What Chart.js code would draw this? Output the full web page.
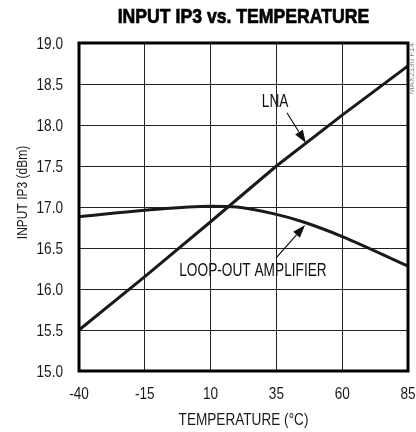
<!DOCTYPE html>
<html>
<head>
<meta charset="utf-8">
<script src="https://cdn.jsdelivr.net/npm/chart.js@4"></script>
<style>
  html, body { margin: 0; padding: 0; background: #fff; }
  #wrap { width: 416px; height: 432px; }
</style>
</head>
<body>
<div id="wrap"><canvas id="chart" width="416" height="432"></canvas></div>
<script>
// values
var temps_lna = [-40, -15, 10, 35, 60, 85];
var ip3_lna = [15.5, 16.15, 16.82, 17.5, 18.12, 18.72];

var temps_loop = [-40, -15, 10, 20, 35, 45, 60, 85];
var ip3_loop = [16.88, 16.96, 17.01, 17.0, 16.91, 16.82, 16.64, 16.28];

var x_ticks = [-40, -15, 10, 35, 60, 85];

var chart_title = 'INPUT IP3 vs. TEMPERATURE';
var x_title = 'TEMPERATURE (°C)';
var y_title = 'INPUT IP3 (dBm)';

// labels with arrows, in data units: text at (tx, ty), arrow from (ax, ay) to (bx, by)
var labels = [
    { text: 'LNA', tx: 34.5, ty: 18.3, ax: 39.0, ay: 18.15, bx: 46.2, by: 17.78 },
    { text: 'LOOP-OUT AMPLIFIER', tx: 26.1, ty: 16.24, ax: 34.9, ay: 16.38, bx: 45.9, by: 16.78 }
];

const FONT = "'Liberation Sans', Arial, sans-serif";
const CAP = 0.716;   // cap height of Liberation Sans, in em
const NARROW = 0.8;  // horizontal squeeze, to look like a condensed face

// draw text centred on (x, y) by its cap height, squeezed sideways by sx
function drawText(ctx, text, x, y, size, align, sx, bold) {
    ctx.save();
    ctx.font = (bold ? 'bold ' : '') + size + 'px ' + FONT;
    ctx.textAlign = align;
    ctx.textBaseline = 'alphabetic';
    ctx.translate(x, y + size * CAP / 2);
    ctx.scale(sx, 1);
    ctx.fillText(text, 0, 0);
    if (bold) {
        ctx.lineWidth = 0.7;
        ctx.strokeStyle = ctx.fillStyle;
        ctx.strokeText(text, 0, 0);
    }
    ctx.restore();
}

function toPoints(xs, ys) {
    let pts = [];
    for (let i = 0; i < xs.length; i++) {
        pts.push({ x: xs[i], y: ys[i] });
    }
    return pts;
}

// frame, texts, arrows drawn over the plot
const extras = {
    id: 'extras',
    afterDraw(chart) {
        const ctx = chart.ctx;
        const a = chart.chartArea;
        const xs = chart.scales.x;
        const ys = chart.scales.y;
        const mid = (a.left + a.right) / 2;
        ctx.save();
        ctx.strokeStyle = '#000';
        ctx.lineWidth = 3;
        ctx.strokeRect(a.left, a.top, a.right - a.left, a.bottom - a.top);

        ctx.fillStyle = '#000';
        drawText(ctx, chart_title, mid, 15.5, 21, 'center', 0.84, true);

        ctx.fillStyle = '#1a1a1a';
        xs.ticks.forEach(t => {
            drawText(ctx, String(t.value), xs.getPixelForValue(t.value), a.bottom + 22, 17, 'center', NARROW);
        });
        ys.ticks.forEach(t => {
            drawText(ctx, t.value.toFixed(1), a.left - 16, ys.getPixelForValue(t.value), 17, 'right', NARROW);
        });
        drawText(ctx, x_title, mid, 419, 17, 'center', NARROW);

        ctx.save();
        ctx.translate(21.5, 192.5);
        ctx.rotate(-Math.PI / 2);
        drawText(ctx, y_title, 0, 0, 15, 'center', NARROW);
        ctx.restore();

        ctx.strokeStyle = '#111';
        ctx.fillStyle = '#111';
        labels.forEach(l => {
            drawText(ctx, l.text, xs.getPixelForValue(l.tx), ys.getPixelForValue(l.ty), 19, 'center', 0.72);
            const x1 = xs.getPixelForValue(l.ax), y1 = ys.getPixelForValue(l.ay);
            const x2 = xs.getPixelForValue(l.bx), y2 = ys.getPixelForValue(l.by);
            const ang = Math.atan2(y2 - y1, x2 - x1);
            const len = 13, half = 4.5;
            const bxp = x2 - len * Math.cos(ang), byp = y2 - len * Math.sin(ang);
            ctx.lineWidth = 1.2;
            ctx.beginPath();
            ctx.moveTo(x1, y1);
            ctx.lineTo(bxp, byp);
            ctx.stroke();
            ctx.beginPath();
            ctx.moveTo(x2, y2);
            ctx.lineTo(bxp + half * Math.sin(ang), byp - half * Math.cos(ang));
            ctx.lineTo(bxp - half * Math.sin(ang), byp + half * Math.cos(ang));
            ctx.closePath();
            ctx.fill();
        });

        // small figure code on the right side
        ctx.translate(a.right + 4, a.top);
        ctx.rotate(-Math.PI / 2);
        ctx.font = '8px ' + FONT;
        ctx.fillStyle = '#888';
        ctx.textAlign = 'right';
        ctx.textBaseline = 'middle';
        ctx.fillText('MAX2130 F14', 0, 0);
        ctx.restore();
    }
};

document.addEventListener('DOMContentLoaded', function() {
    new Chart(document.getElementById('chart'), {
        type: 'line',
        data: {
            datasets: [{
                label: 'LNA',
                data: toPoints(temps_lna, ip3_lna),
                borderColor: '#1a1a1a',
                borderWidth: 3,
                pointRadius: 0,
                tension: 0
            }, {
                label: 'LOOP-OUT AMPLIFIER',
                data: toPoints(temps_loop, ip3_loop),
                borderColor: '#1a1a1a',
                borderWidth: 3,
                pointRadius: 0,
                cubicInterpolationMode: 'monotone'
            }]
        },
        options: {
            responsive: false,
            animation: false,
            layout: { padding: { left: 0, right: 8, top: 43, bottom: 0 } },
            plugins: {
                legend: { display: false },
                tooltip: { enabled: false },
                title: { display: false }
            },
            scales: {
                x: {
                    type: 'linear',
                    min: -40,
                    max: 85,
                    afterBuildTicks: scale => { scale.ticks = x_ticks.map(v => ({ value: v })); },
                    afterFit: scale => { scale.height = 61; },
                    grid: { color: '#222', lineWidth: 1, drawTicks: false },
                    border: { display: false },
                    ticks: { display: false }
                },
                y: {
                    min: 15,
                    max: 19,
                    afterFit: scale => { scale.width = 79; },
                    grid: { color: '#222', lineWidth: 1, drawTicks: false },
                    border: { display: false },
                    ticks: { display: false, stepSize: 0.5 }
                }
            }
        },
        plugins: [extras]
    });
});
</script>
</body>
</html>
